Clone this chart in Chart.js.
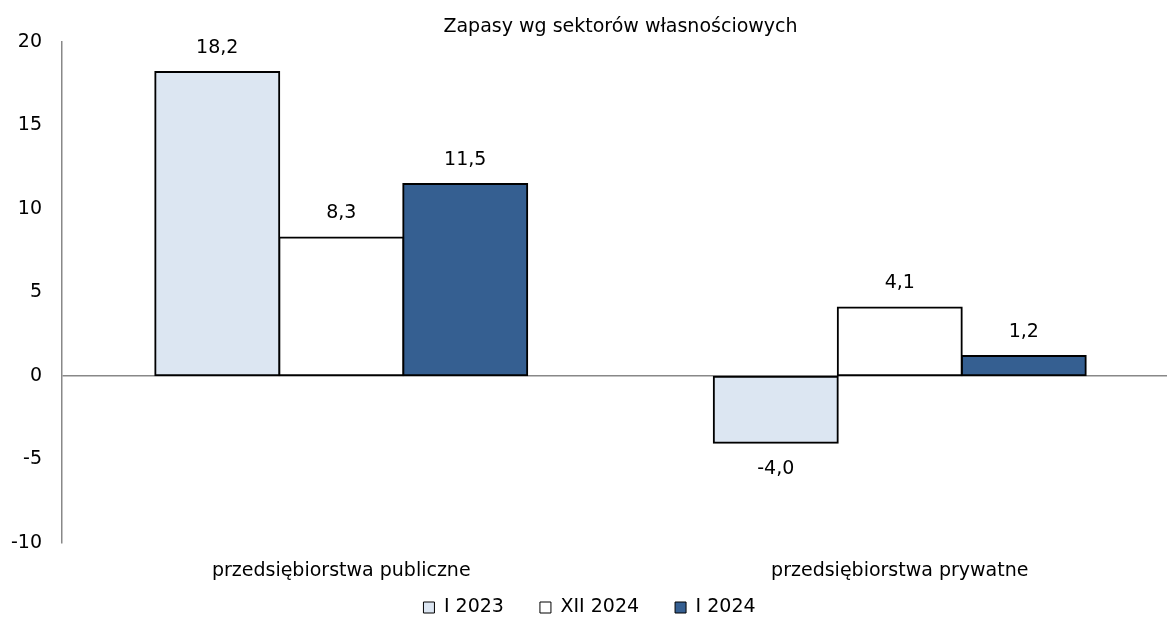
<!DOCTYPE html>
<html>
<head>
<meta charset="utf-8">
<script src="https://cdn.jsdelivr.net/npm/chart.js@4.4.1/dist/chart.umd.min.js"></script>
<style>
    html, body { margin: 0; padding: 0; background: #fff; overflow: hidden; }
    #wrap { width: 1179px; height: 617px; }
</style>
</head>
<body>
<div id="wrap"><canvas id="stockChart" width="1179" height="617"></canvas></div>
<script>
// Zapasy wg sektorów własnościowych
const categories = ['przedsiębiorstwa publiczne', 'przedsiębiorstwa prywatne'];
const seriesNames = ['I 2023', 'XII 2024', 'I 2024'];
const valuesI2023 = [18.2, -4.0];
const valuesXII2024 = [8.3, 4.1];
const valuesI2024 = [11.5, 1.2];
const yTicks = [-10, -5, 0, 5, 10, 15, 20];

const FONT = "'DejaVu Sans', sans-serif";
const FONT_SIZE = 19;

// value labels above / below bars, with comma decimals
const valueLabels = {
    id: 'valueLabels',
    afterDatasetsDraw(chart) {
        const ctx = chart.ctx;
        ctx.save();
        ctx.font = FONT_SIZE + 'px ' + FONT;
        ctx.fillStyle = '#000';
        ctx.textAlign = 'center';
        ctx.textBaseline = 'middle';
        chart.data.datasets.forEach((ds, i) => {
            const meta = chart.getDatasetMeta(i);
            meta.data.forEach((bar, j) => {
                const v = ds.data[j];
                const y = v >= 0 ? bar.y - 24 : bar.y + 26;
                ctx.fillText(v.toFixed(1).replace('.', ','), bar.x, y);
            });
        });
        ctx.restore();
    }
};

// the legend sits closer to the axis labels than the layout allows
const legendShift = {
    id: 'legendShift',
    afterLayout(chart) {
        const l = chart.legend;
        if (!l) return;
        l.top -= 25;
        l.bottom = chart.height;
        l.height = l.bottom - l.top;
    }
};

function initStockChart() {
    const ctx = document.getElementById('stockChart');
    if (!ctx || typeof Chart === 'undefined') return;

    const common = {
        borderColor: '#000',
        borderWidth: 2,
        borderSkipped: false,
        inflateAmount: 1,
        categoryPercentage: 0.666,
        barPercentage: 1.0
    };

    new Chart(ctx, {
        type: 'bar',
        data: {
            labels: categories,
            datasets: [
                Object.assign({ label: seriesNames[0], data: valuesI2023, backgroundColor: '#dce6f2' }, common),
                Object.assign({ label: seriesNames[1], data: valuesXII2024, backgroundColor: '#ffffff' }, common),
                Object.assign({ label: seriesNames[2], data: valuesI2024, backgroundColor: '#355f91' }, common)
            ]
        },
        options: {
            responsive: false,
            animation: false,
            layout: { padding: 0 },
            plugins: {
                title: {
                    display: true,
                    text: 'Zapasy wg sektorów własnościowych',
                    fullSize: false,
                    color: '#000',
                    font: { family: FONT, size: FONT_SIZE, weight: 'normal' },
                    padding: { top: 15.6, bottom: 3.6 }
                },
                legend: {
                    position: 'bottom',
                    maxHeight: 30,
                    labels: {
                        color: '#000',
                        font: { family: FONT, size: FONT_SIZE },
                        boxWidth: 11,
                        boxHeight: 11,
                        padding: 36,
                        generateLabels: chart =>
                            Chart.defaults.plugins.legend.labels.generateLabels(chart)
                                .map(l => Object.assign(l, { lineWidth: 1 }))
                    }
                },
                tooltip: { enabled: false }
            },
            scales: {
                x: {
                    grid: { display: false, drawTicks: false },
                    border: { display: false },
                    ticks: { color: '#000', font: { family: FONT, size: FONT_SIZE }, padding: 17, maxRotation: 0 },
                    afterFit: scale => { scale.height = 44; }
                },
                y: {
                    min: yTicks[0],
                    max: yTicks[yTicks.length - 1],
                    afterBuildTicks: scale => { scale.ticks = yTicks.map(v => ({ value: v })); },
                    grid: {
                        drawTicks: false,
                        color: c => (c.tick && c.tick.value === 0 ? '#888' : 'rgba(0,0,0,0)'),
                        lineWidth: 1.5
                    },
                    border: { display: true, color: '#888', width: 1.5 },
                    ticks: { color: '#000', font: { family: FONT, size: FONT_SIZE }, padding: 20 },
                    afterFit: scale => { scale.width = 62; }
                }
            }
        },
        plugins: [valueLabels, legendShift]
    });
}

initStockChart();
</script>
</body>
</html>
